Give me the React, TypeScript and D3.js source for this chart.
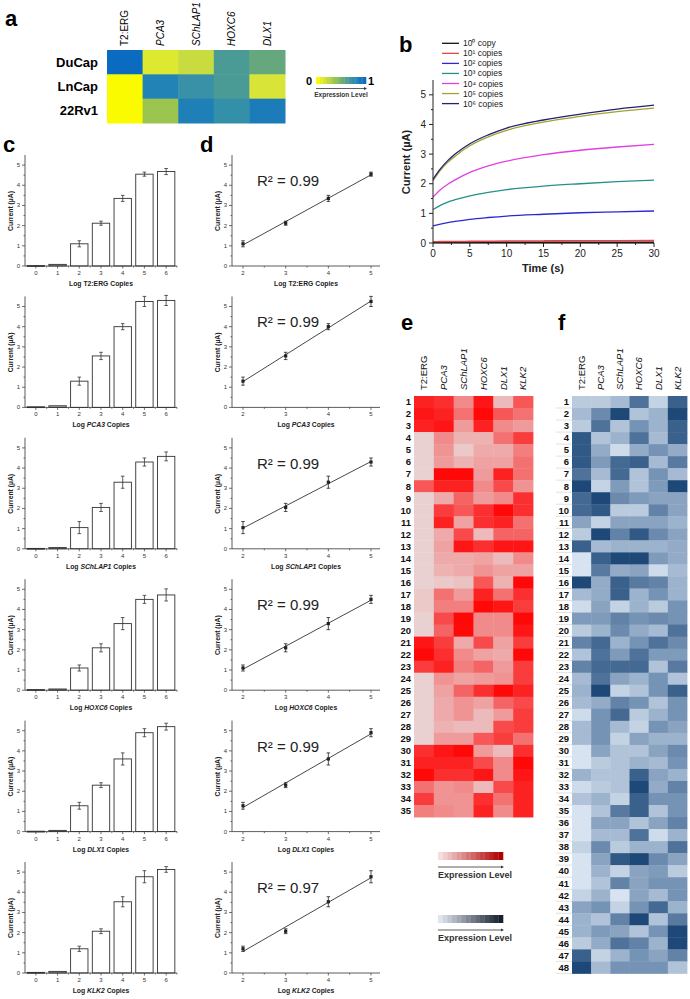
import React from "react";
import * as d3 from "d3";

const FONT = "'Liberation Sans', Arial, Helvetica, sans-serif";

// ---------------- panel a ----------------
const aGenes = ["T2:ERG", "PCA3", "SChLAP1", "HOXC6", "DLX1"];
const aCellLines = ["DuCap", "LnCap", "22Rv1"];
const aDuCap = [1, 0.12, 0.2, 0.66, 0.56];
const aLnCap = [0, 0.86, 0.74, 0.66, 0.14];
const a22Rv1 = [0, 0.36, 0.88, 0.76, 0.9];

// ---------------- panel b ----------------
const bTime = [0, 1, 2, 3, 5, 7.5, 10, 15, 20, 25, 30];
const bLabels = ["10⁰ copy", "10¹ copies", "10² copies", "10³ copies", "10⁴ copies", "10⁵ copies", "10⁶ copies"];
const b1e0 = [0.02, 0.02, 0.02, 0.02, 0.02, 0.02, 0.02, 0.02, 0.02, 0.02, 0.02];
const b1e1 = [0.04, 0.045, 0.05, 0.05, 0.055, 0.06, 0.065, 0.07, 0.075, 0.078, 0.08];
const b1e2 = [0.58, 0.64, 0.69, 0.73, 0.8, 0.86, 0.91, 0.97, 1.02, 1.05, 1.08];
const b1e3 = [1.13, 1.27, 1.38, 1.46, 1.59, 1.71, 1.8, 1.92, 2.0, 2.07, 2.12];
const b1e4 = [1.55, 1.8, 1.98, 2.13, 2.38, 2.6, 2.76, 2.98, 3.13, 3.24, 3.33];
const b1e5 = [2.1, 2.45, 2.72, 2.93, 3.28, 3.58, 3.8, 4.08, 4.27, 4.43, 4.55];
const b1e6 = [2.15, 2.5, 2.78, 3.0, 3.35, 3.65, 3.88, 4.15, 4.35, 4.52, 4.65];
const bColors = ["#111111", "#e04848", "#2a2ad0", "#25918a", "#e040e0", "#a4a032", "#22226e"];

// ---------------- panels c & d ----------------
const cCopies = [0, 1, 2, 3, 4, 5, 6];
const dCopies = [2, 3, 4, 5];
const cGenes = ["T2:ERG", "PCA3", "SChLAP1", "HOXC6", "DLX1", "KLK2"];
const cT2ERG = [0.02, 0.08, 1.1, 2.12, 3.35, 4.55, 4.68];
const cT2ERGErr = [0.01, 0.02, 0.15, 0.1, 0.15, 0.1, 0.15];
const cPCA3 = [0.03, 0.08, 1.3, 2.55, 4.0, 5.25, 5.3];
const cPCA3Err = [0.01, 0.02, 0.2, 0.18, 0.15, 0.25, 0.25];
const cSChLAP1 = [0.02, 0.06, 1.05, 2.05, 3.3, 4.3, 4.58];
const cSChLAP1Err = [0.01, 0.02, 0.3, 0.2, 0.3, 0.2, 0.22];
const cHOXC6 = [0.03, 0.06, 1.1, 2.1, 3.3, 4.5, 4.72];
const cHOXC6Err = [0.01, 0.02, 0.15, 0.2, 0.3, 0.2, 0.3];
const cDLX1 = [0.02, 0.06, 1.28, 2.3, 3.6, 4.9, 5.2];
const cDLX1Err = [0.01, 0.02, 0.17, 0.12, 0.3, 0.2, 0.17];
const cKLK2 = [0.03, 0.08, 1.2, 2.07, 3.53, 4.77, 5.13];
const cKLK2Err = [0.01, 0.02, 0.13, 0.12, 0.25, 0.3, 0.14];
const dR2 = ["0.99", "0.99", "0.99", "0.99", "0.99", "0.97"];

// ---------------- panel e ----------------
const hmGenes = ["T2:ERG", "PCA3", "SChLAP1", "HOXC6", "DLX1", "KLK2"];
const eT2ERG = [0.9, 0.95, 0.9, 0.05, 0.05, 0.05, 0.05, 0.7, 0.05, 0.05, 0.05, 0.05, 0.05, 0.05, 0.05, 0.05, 0.1, 0.1, 0.05, 0.05, 0.95, 1.0, 0.8, 0.05, 0.05, 0.05, 0.05, 0.05, 0.05, 0.85, 0.9, 1.0, 0.6, 0.8, 0.55];
const ePCA3 = [0.85, 0.9, 0.95, 0.5, 0.45, 0.4, 1.0, 0.9, 0.3, 0.8, 0.9, 0.3, 0.35, 0.3, 0.25, 0.1, 0.6, 0.55, 0.75, 0.65, 0.8, 0.85, 0.9, 0.45, 0.35, 0.3, 0.3, 0.25, 0.4, 0.95, 0.9, 0.85, 0.45, 0.45, 0.5];
const eSChLAP1 = [0.5, 0.6, 0.4, 0.25, 0.1, 0.25, 1.0, 0.9, 0.65, 0.7, 0.35, 0.75, 0.95, 0.3, 0.3, 0.15, 0.4, 0.55, 1.0, 1.0, 0.3, 0.5, 0.55, 0.35, 0.65, 0.45, 0.45, 0.2, 0.4, 1.0, 0.9, 0.85, 0.5, 0.45, 0.45];
const eHOXC6 = [0.95, 1.0, 0.9, 0.25, 0.3, 0.35, 0.4, 0.5, 0.4, 0.85, 0.85, 0.2, 0.85, 0.35, 0.45, 0.7, 0.9, 1.0, 0.5, 0.5, 0.75, 0.35, 0.65, 0.4, 0.85, 0.35, 0.2, 0.2, 0.7, 0.4, 0.75, 0.95, 0.2, 0.85, 0.9];
const eDLX1 = [0.2, 0.7, 0.5, 0.6, 0.3, 0.35, 0.9, 0.75, 0.5, 1.0, 0.9, 0.65, 0.95, 0.2, 0.35, 0.25, 0.6, 0.95, 0.5, 0.5, 0.35, 0.3, 0.4, 0.45, 1.0, 0.65, 0.4, 0.75, 0.8, 0.2, 0.5, 0.5, 0.75, 0.6, 0.5];
const eKLK2 = [0.7, 0.6, 0.4, 0.8, 0.55, 0.6, 0.6, 0.45, 0.85, 0.85, 0.6, 0.65, 0.95, 0.5, 0.35, 1.0, 0.85, 0.8, 1.0, 0.95, 0.8, 1.0, 0.8, 0.8, 0.9, 0.75, 0.8, 0.8, 0.6, 0.85, 1.0, 0.95, 0.9, 0.9, 0.9];

// ---------------- panel f ----------------
const fT2ERG = [0.2, 0.3, 0.2, 0.9, 0.9, 0.9, 0.75, 1.0, 0.8, 0.8, 0.45, 0.2, 0.85, 0.05, 0.05, 1.0, 0.3, 0.1, 0.5, 0.2, 0.65, 0.25, 0.65, 0.3, 0.35, 0.3, 0.1, 0.3, 0.3, 0.05, 0.05, 0.35, 0.1, 0.25, 0.05, 0.05, 0.05, 0.15, 0.05, 0.05, 0.05, 0.15, 0.45, 0.35, 0.35, 0.2, 0.85, 1.0];
const fPCA3 = [0.2, 0.6, 0.75, 0.25, 0.4, 0.5, 0.3, 0.15, 1.0, 0.9, 0.15, 1.0, 0.3, 0.85, 0.7, 0.4, 0.4, 0.45, 0.5, 0.35, 0.8, 0.75, 0.8, 0.75, 1.0, 0.4, 0.55, 0.55, 0.55, 0.45, 0.2, 0.25, 0.2, 0.35, 0.25, 0.45, 0.3, 0.6, 0.45, 0.35, 0.25, 0.35, 0.55, 0.25, 0.5, 0.4, 0.15, 0.3];
const fSChLAP1 = [0.3, 1.0, 0.25, 0.35, 0.1, 0.8, 0.8, 0.5, 0.6, 0.2, 0.45, 0.65, 0.35, 1.0, 0.4, 0.85, 0.85, 0.15, 0.65, 0.6, 0.35, 0.5, 0.8, 0.45, 0.15, 0.65, 0.8, 0.3, 0.15, 0.25, 0.25, 0.25, 0.25, 0.15, 0.7, 0.45, 0.3, 0.2, 0.9, 0.15, 0.65, 0.05, 0.15, 0.65, 0.45, 0.75, 0.35, 0.55];
const fHOXC6 = [0.75, 0.25, 0.55, 0.75, 0.4, 0.85, 0.25, 0.25, 0.5, 0.2, 0.45, 0.9, 0.35, 1.0, 0.45, 0.7, 0.35, 0.35, 0.55, 0.4, 0.55, 0.75, 0.8, 0.35, 0.25, 0.55, 0.2, 0.15, 0.45, 0.25, 0.35, 0.85, 1.0, 0.85, 0.85, 0.25, 0.75, 0.35, 1.0, 0.45, 0.45, 0.45, 0.55, 1.0, 0.25, 0.65, 0.55, 0.55];
const fDLX1 = [0.15, 0.35, 0.35, 0.3, 0.55, 0.3, 0.55, 0.5, 0.45, 0.65, 0.45, 0.6, 0.35, 0.5, 0.1, 0.65, 0.55, 0.2, 0.6, 0.3, 0.75, 0.5, 0.25, 0.55, 0.55, 0.25, 0.35, 0.55, 0.35, 0.45, 0.3, 0.45, 0.4, 0.55, 0.25, 0.45, 0.1, 0.35, 0.6, 0.5, 0.55, 0.3, 0.8, 0.25, 0.55, 0.35, 0.45, 0.55];
const fKLK2 = [0.85, 1.0, 0.85, 0.85, 0.4, 0.7, 0.3, 1.0, 0.45, 0.45, 0.35, 0.45, 0.4, 0.4, 0.3, 0.35, 0.35, 0.55, 0.55, 0.75, 0.6, 0.5, 0.7, 0.25, 0.85, 0.55, 0.55, 0.45, 0.35, 0.6, 0.55, 0.35, 0.65, 0.55, 0.55, 0.65, 0.35, 0.75, 0.45, 0.2, 0.55, 0.55, 0.35, 0.7, 1.0, 1.0, 0.65, 0.25];

const legendSteps = d3.range(0, 14).map((i) => i / 13);

const isItalic = (g: string) => g !== "T2:ERG";

// ---------------- components ----------------
function PanelLabel({ x, y, t }: { x: number; y: number; t: string }) {
  return (
    <text x={x} y={y} fontSize={22} fontWeight="bold" fontFamily={FONT}>
      {t}
    </text>
  );
}

function PanelA() {
  const x = d3.scaleBand<string>().domain(aGenes).range([107, 285]);
  const y = d3.scaleBand<string>().domain(aCellLines).range([50, 123]);
  const color = d3
    .scaleLinear<string>()
    .domain([0, 0.15, 0.35, 0.55, 0.7, 0.85, 1])
    .range(["#fbfb00", "#d6e33c", "#9ec64c", "#68a97c", "#3f96a0", "#2485b6", "#0a6bc0"]);
  const rows = [aDuCap, aLnCap, a22Rv1];
  const lx = d3.scaleBand<number>().domain(legendSteps).range([316, 366]);
  return (
    <g fontFamily={FONT}>
      <PanelLabel x={5} y={26} t="a" />
      {rows.map((vals, ri) =>
        vals.map((v, ci) => (
          <rect key={ri + "-" + ci} x={x(aGenes[ci])} y={y(aCellLines[ri])} width={x.bandwidth() + 0.5} height={y.bandwidth() + 0.5} fill={color(v)} />
        ))
      )}
      {aCellLines.map((c) => (
        <text key={c} x={98} y={(y(c) as number) + y.bandwidth() / 2 + 4.5} textAnchor="end" fontSize={13} fontWeight="bold">
          {c}
        </text>
      ))}
      {aGenes.map((g) => (
        <text
          key={g}
          transform={`translate(${(x(g) as number) + x.bandwidth() / 2 + 3.5},46) rotate(-90)`}
          fontSize={10}
          fontStyle={isItalic(g) ? "italic" : "normal"}
        >
          {g}
        </text>
      ))}
      {legendSteps.map((s) => (
        <rect key={s} x={lx(s)} y={77} width={lx.bandwidth() + 0.3} height={7} fill={color(s)} />
      ))}
      <text x={312} y={85} fontSize={11} fontWeight="bold" textAnchor="end">0</text>
      <text x={368} y={85} fontSize={11} fontWeight="bold">1</text>
      <line x1={316} x2={364} y1={88.5} y2={88.5} stroke="#333" strokeWidth={0.8} />
      <path d="M364,87 L367,88.5 L364,90 Z" fill="#333" />
      <text x={341} y={97} fontSize={6.5} fontWeight="bold" textAnchor="middle" fill="#333">Expression Level</text>
    </g>
  );
}

function PanelB() {
  const x = d3.scaleLinear().domain([0, 30]).range([433, 654]);
  const y = d3.scaleLinear().domain([0, 5.5]).range([243, 80]);
  const series = [b1e0, b1e1, b1e2, b1e3, b1e4, b1e5, b1e6];
  const line = d3
    .line<number>()
    .x((_, i) => x(bTime[i]))
    .y((d) => y(d))
    .curve(d3.curveMonotoneX);
  const yMajor = d3.range(0, 6);
  const yMinor = d3.range(0.5, 5.5, 1);
  const xMajor = d3.range(0, 31, 5);
  const xMinor = d3.range(2.5, 30, 5);
  return (
    <g fontFamily={FONT}>
      <PanelLabel x={399} y={52} t="b" />
      {series.map((s, i) => (
        <path key={i} d={line(s) || ""} fill="none" stroke={bColors[i]} strokeWidth={i < 2 ? 1.6 : 1.3} />
      ))}
      <line x1={433} x2={433} y1={243} y2={80} stroke="#222" strokeWidth={1} />
      <line x1={433} x2={654} y1={243} y2={243} stroke="#222" strokeWidth={1} />
      {yMajor.map((t) => (
        <g key={t}>
          <line x1={429} x2={433} y1={y(t)} y2={y(t)} stroke="#222" />
          <text x={426} y={y(t) + 3.5} fontSize={10} textAnchor="end" fill="#222">{t}</text>
        </g>
      ))}
      {yMinor.map((t) => (
        <line key={t} x1={431} x2={433} y1={y(t)} y2={y(t)} stroke="#222" />
      ))}
      {xMajor.map((t) => (
        <g key={t}>
          <line x1={x(t)} x2={x(t)} y1={243} y2={247} stroke="#222" />
          <text x={x(t)} y={257} fontSize={10} textAnchor="middle" fill="#222">{t}</text>
        </g>
      ))}
      {xMinor.map((t) => (
        <line key={t} x1={x(t)} x2={x(t)} y1={243} y2={245} stroke="#222" />
      ))}
      <text x={543} y={272} fontSize={11} fontWeight="bold" textAnchor="middle" fill="#222">Time (s)</text>
      <text transform="translate(410,162) rotate(-90)" fontSize={11} fontWeight="bold" textAnchor="middle" fill="#222">
        Current (µA)
      </text>
      {bLabels.map((l, i) => (
        <g key={l}>
          <line x1={442} x2={459} y1={43.3 + 10.05 * i} y2={43.3 + 10.05 * i} stroke={bColors[i]} strokeWidth={1.3} />
          <text x={463} y={46.3 + 10.05 * i} fontSize={8.5} fill="#222">{l}</text>
        </g>
      ))}
    </g>
  );
}

function GeneTitle({ x, y, gene }: { x: number; y: number; gene: string }) {
  return (
    <text x={x} y={y} fontSize={6.8} fontWeight="bold" textAnchor="middle" fill="#222">
      Log <tspan fontStyle={isItalic(gene) ? "italic" : "normal"}>{gene}</tspan> Copies
    </text>
  );
}

function BarRow({ k, gene, vals, errs, r2 }: { k: number; gene: string; vals: number[]; errs: number[]; r2: string }) {
  const yBase = 266 + 141.4 * k;
  const y = d3.scaleLinear().domain([0, 5.5]).range([yBase, yBase - 111]);
  const xb = d3.scaleBand<number>().domain(cCopies).range([25, 177]).paddingInner(0.2).paddingOuter(0.1);
  const xd = d3.scaleLinear().domain([2, 5]).range([243, 371]);
  const yMajor = d3.range(0, 6);
  const yMinor = d3.range(0.5, 5.5, 1);
  const dVals = dCopies.map((c) => vals[c]);
  const dErrs = dCopies.map((c) => errs[c]);
  const mx = d3.mean(dCopies) as number;
  const my = d3.mean(dVals) as number;
  const slope =
    (d3.sum(dCopies.map((c, i) => (c - mx) * (dVals[i] - my))) as number) /
    (d3.sum(dCopies.map((c) => (c - mx) * (c - mx))) as number);
  const icpt = my - slope * mx;
  const fit = (c: number) => icpt + slope * c;
  const step = xb.step();
  return (
    <g fontFamily={FONT}>
      {/* c: bar chart */}
      {cCopies.map((c, i) => {
        const cx = (xb(c) as number) + xb.bandwidth() / 2;
        return (
          <g key={c}>
            <rect x={xb(c)} y={y(vals[i])} width={xb.bandwidth()} height={Math.max(0.8, yBase - y(vals[i]))} fill={i < 2 ? "#bbb" : "#fff"} stroke="#333" strokeWidth={0.9} />
            {i >= 2 && (
              <g stroke="#333" strokeWidth={0.8}>
                <line x1={cx} x2={cx} y1={y(vals[i] - errs[i])} y2={y(vals[i] + errs[i])} />
                <line x1={cx - 1.8} x2={cx + 1.8} y1={y(vals[i] - errs[i])} y2={y(vals[i] - errs[i])} />
                <line x1={cx - 1.8} x2={cx + 1.8} y1={y(vals[i] + errs[i])} y2={y(vals[i] + errs[i])} />
              </g>
            )}
            <line x1={cx} x2={cx} y1={yBase} y2={yBase + 2.5} stroke="#333" strokeWidth={0.7} />
            <line x1={cx + step / 2} x2={cx + step / 2} y1={yBase} y2={yBase + 1.5} stroke="#333" strokeWidth={0.7} />
            <text x={cx} y={yBase + 9} fontSize={6} textAnchor="middle" fill="#333">{c}</text>
          </g>
        );
      })}
      <line x1={25} x2={25} y1={yBase} y2={yBase - 111} stroke="#333" strokeWidth={0.8} />
      <line x1={25} x2={177} y1={yBase} y2={yBase} stroke="#333" strokeWidth={0.8} />
      {yMajor.map((t) => (
        <g key={t}>
          <line x1={22} x2={25} y1={y(t)} y2={y(t)} stroke="#333" strokeWidth={0.7} />
          <text x={20} y={y(t) + 2} fontSize={6} textAnchor="end" fill="#333">{t}</text>
        </g>
      ))}
      {yMinor.map((t) => (
        <line key={t} x1={23.5} x2={25} y1={y(t)} y2={y(t)} stroke="#333" strokeWidth={0.7} />
      ))}
      <text transform={`translate(13,${yBase - 55}) rotate(-90)`} fontSize={6.8} fontWeight="bold" textAnchor="middle" fill="#222">
        Current (µA)
      </text>
      <GeneTitle x={101} y={yBase + 20} gene={gene} />

      {/* d: calibration line */}
      <line x1={232} x2={232} y1={yBase} y2={yBase - 111} stroke="#333" strokeWidth={0.8} />
      <line x1={232} x2={380} y1={yBase} y2={yBase} stroke="#333" strokeWidth={0.8} />
      {yMajor.map((t) => (
        <g key={t}>
          <line x1={229} x2={232} y1={y(t)} y2={y(t)} stroke="#333" strokeWidth={0.7} />
          <text x={227} y={y(t) + 2} fontSize={6} textAnchor="end" fill="#333">{t}</text>
        </g>
      ))}
      {yMinor.map((t) => (
        <line key={t} x1={230.5} x2={232} y1={y(t)} y2={y(t)} stroke="#333" strokeWidth={0.7} />
      ))}
      {dCopies.map((c) => (
        <g key={c}>
          <line x1={xd(c)} x2={xd(c)} y1={yBase} y2={yBase + 2.5} stroke="#333" strokeWidth={0.7} />
          <text x={xd(c)} y={yBase + 9} fontSize={6} textAnchor="middle" fill="#333">{c}</text>
        </g>
      ))}
      {[2.5, 3.5, 4.5].map((c) => (
        <line key={c} x1={xd(c)} x2={xd(c)} y1={yBase} y2={yBase + 1.5} stroke="#333" strokeWidth={0.7} />
      ))}
      <line x1={xd(2)} x2={xd(5)} y1={y(fit(2))} y2={y(fit(5))} stroke="#333" strokeWidth={0.9} />
      {dCopies.map((c, i) => (
        <g key={c} stroke="#222" strokeWidth={0.8}>
          <line x1={xd(c)} x2={xd(c)} y1={y(dVals[i] - dErrs[i])} y2={y(dVals[i] + dErrs[i])} />
          <line x1={xd(c) - 1.8} x2={xd(c) + 1.8} y1={y(dVals[i] - dErrs[i])} y2={y(dVals[i] - dErrs[i])} />
          <line x1={xd(c) - 1.8} x2={xd(c) + 1.8} y1={y(dVals[i] + dErrs[i])} y2={y(dVals[i] + dErrs[i])} />
          <rect x={xd(c) - 1.6} y={y(dVals[i]) - 1.6} width={3.2} height={3.2} fill="#222" stroke="none" />
        </g>
      ))}
      <text transform={`translate(220,${yBase - 55}) rotate(-90)`} fontSize={6.8} fontWeight="bold" textAnchor="middle" fill="#222">
        Current (µA)
      </text>
      <text x={257} y={yBase - 80} fontSize={15} fill="#222">
        R² = {r2}
      </text>
      <GeneTitle x={306} y={yBase + 20} gene={gene} />
    </g>
  );
}

function Heatmap({
  cols,
  x0,
  x1,
  nRows,
  color,
  labelX,
  separators,
}: {
  cols: number[][];
  x0: number;
  x1: number;
  nRows: number;
  color: (v: number) => string;
  labelX: number;
  separators: boolean;
}) {
  const rowsIdx = d3.range(1, nRows + 1);
  const x = d3.scaleBand<string>().domain(hmGenes).range([x0, x1]);
  const y = d3.scaleBand<number>().domain(rowsIdx).range([396, 396 + 12.03 * nRows]);
  return (
    <g fontFamily={FONT}>
      {cols.map((col, ci) =>
        col.map((v, ri) => (
          <rect key={ci + "-" + ri} x={x(hmGenes[ci])} y={y(ri + 1)} width={x.bandwidth() + 0.4} height={y.bandwidth() + 0.4} fill={color(v)} />
        ))
      )}
      {hmGenes.map((g) => (
        <text
          key={g}
          transform={`translate(${(x(g) as number) + x.bandwidth() / 2 + 3.3},390) rotate(-90)`}
          fontSize={9.5}
          fontStyle={isItalic(g) ? "italic" : "normal"}
          fill="#111"
        >
          {g}
        </text>
      ))}
      {rowsIdx.map((r) => (
        <g key={r}>
          <text x={labelX} y={(y(r) as number) + 9.3} fontSize={9.5} fontWeight="bold" textAnchor="end" fill="#111">
            {r}
          </text>
          {separators && (
            <line x1={labelX - 13} x2={labelX + 3} y1={(y(r) as number) + 12} y2={(y(r) as number) + 12} stroke="#ccc" strokeWidth={0.6} />
          )}
        </g>
      ))}
    </g>
  );
}

function GradientLegend({ y0, colors }: { y0: number; colors: (v: number) => string }) {
  const lx = d3.scaleBand<number>().domain(legendSteps).range([438, 503]);
  return (
    <g fontFamily={FONT}>
      {legendSteps.map((s) => (
        <rect key={s} x={lx(s)} y={y0} width={lx.bandwidth() + 0.3} height={8} fill={colors(s)} />
      ))}
      <line x1={438} x2={501} y1={y0 + 15} y2={y0 + 15} stroke="#333" strokeWidth={0.8} />
      <path d={`M501,${y0 + 13.5} L504,${y0 + 15} L501,${y0 + 16.5} Z`} fill="#333" />
      <text x={438} y={y0 + 26} fontSize={9} fontWeight="bold" fill="#333">Expression Level</text>
    </g>
  );
}

export default function App() {
  const red = d3.scaleLinear<string>().domain([0, 0.5, 1]).range(["#e9d9d9", "#f18b8b", "#ff0808"]);
  const blue = d3.scaleLinear<string>().domain([0, 0.5, 1]).range(["#e1ebf6", "#7f9bbb", "#1d4877"]);
  const redLegend = d3.scaleLinear<string>().domain([0, 1]).range(["#f6dede", "#b00000"]);
  const blueLegend = d3.scaleLinear<string>().domain([0, 1]).range(["#dfe5ee", "#16202e"]);
  const cVals = [cT2ERG, cPCA3, cSChLAP1, cHOXC6, cDLX1, cKLK2];
  const cErrs = [cT2ERGErr, cPCA3Err, cSChLAP1Err, cHOXC6Err, cDLX1Err, cKLK2Err];
  return (
    <svg width={690} height={999} style={{ position: "absolute", left: 0, top: 0, background: "#fff" }}>
      <rect width={690} height={999} fill="#fff" />
      <PanelA />
      <PanelB />
      <PanelLabel x={3} y={152} t="c" />
      <PanelLabel x={200} y={152} t="d" />
      {cGenes.map((g, k) => (
        <BarRow key={g} k={k} gene={g} vals={cVals[k]} errs={cErrs[k]} r2={dR2[k]} />
      ))}
      <PanelLabel x={401} y={330} t="e" />
      <PanelLabel x={558} y={330} t="f" />
      <Heatmap cols={[eT2ERG, ePCA3, eSChLAP1, eHOXC6, eDLX1, eKLK2]} x0={414} x1={533} nRows={35} color={red} labelX={411} separators={false} />
      <Heatmap cols={[fT2ERG, fPCA3, fSChLAP1, fHOXC6, fDLX1, fKLK2]} x0={572} x1={687} nRows={48} color={blue} labelX={569} separators={true} />
      <GradientLegend y0={852} colors={redLegend} />
      <GradientLegend y0={915} colors={blueLegend} />
    </svg>
  );
}
